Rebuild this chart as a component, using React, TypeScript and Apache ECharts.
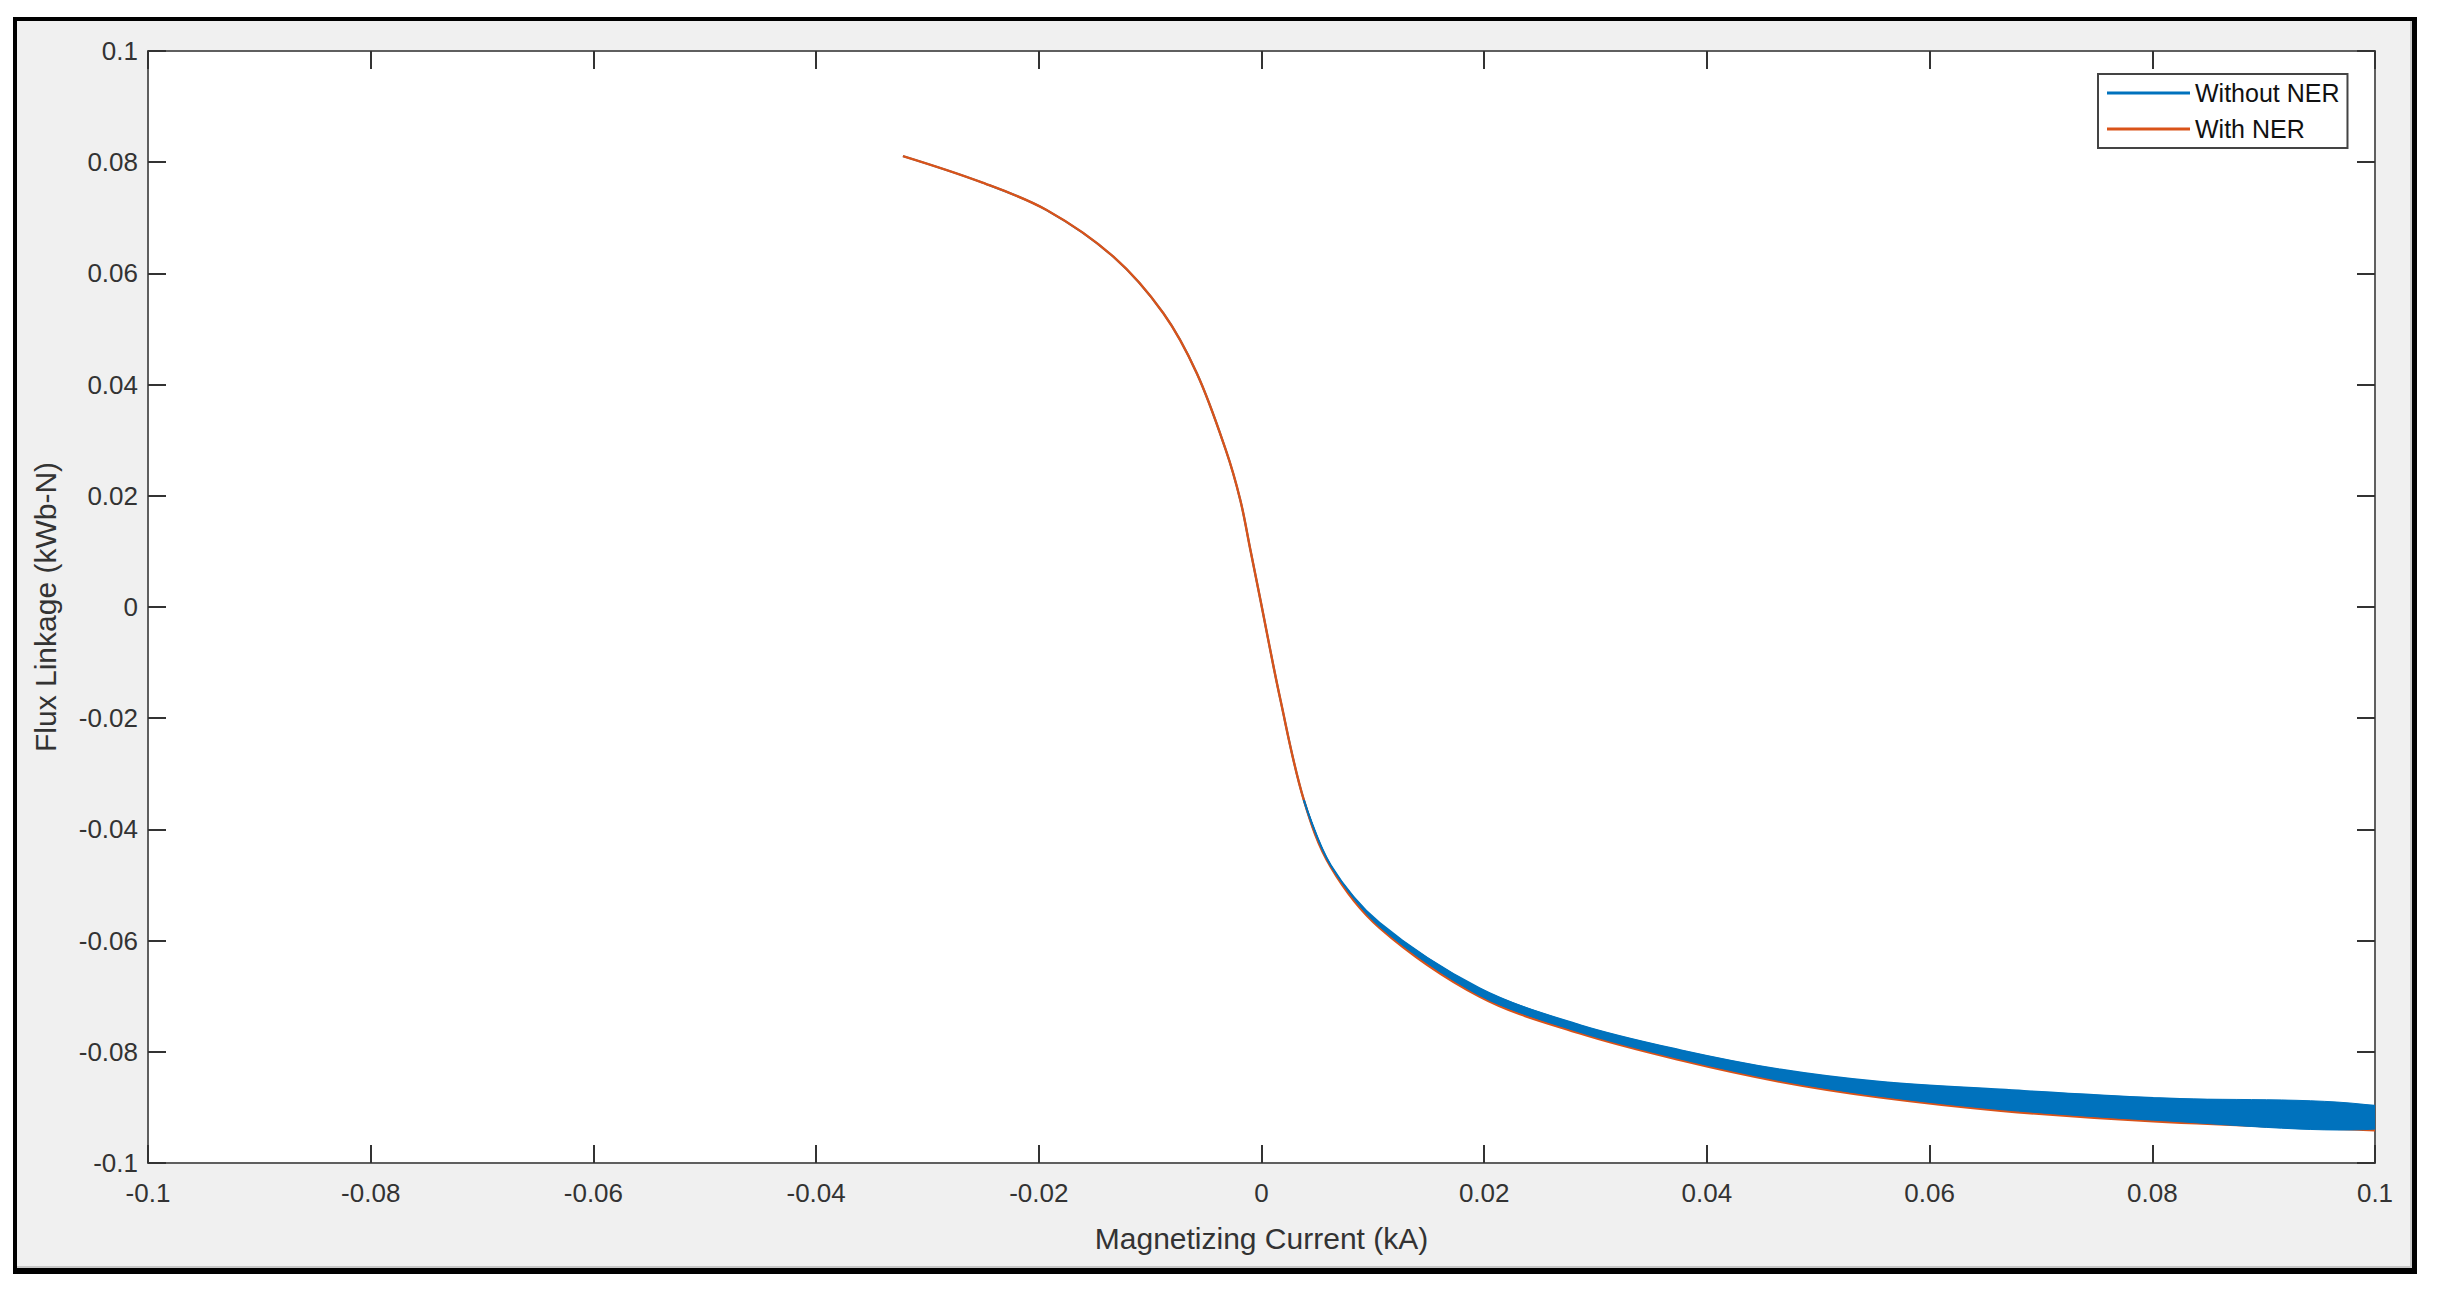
import React, { useEffect, useRef } from "react";
import * as echarts from "echarts";

// Magnetizing current (kA) sample positions
const currentKA = [
  -0.0322, -0.0253, -0.0193, -0.0133, -0.0088, -0.0058, -0.0032, -0.0019, -0.001, -0.0001,
  0.0017, 0.0038, 0.0062, 0.0106, 0.0196, 0.0286, 0.0376, 0.0466, 0.0555, 0.0664, 0.0801, 0.1,
];
// Flux linkage (kWb-N) "With NER" (orange)
const withNER = [
  0.0811, 0.0765, 0.0714, 0.063, 0.0528, 0.042, 0.0282, 0.0192, 0.0103, 0.0013,
  -0.0167, -0.0347, -0.0467, -0.0577, -0.0701, -0.0767, -0.0815, -0.0854, -0.0882, -0.0906, -0.0925, -0.0941,
];
// "Without NER" (blue) band: lower edge (sits just above the orange line)
const withoutNERLower = [
  0.0811, 0.0765, 0.0714, 0.063, 0.0528, 0.042, 0.0282, 0.0192, 0.0103, 0.0013,
  -0.0167, -0.0347, -0.0465, -0.0575, -0.0699, -0.0765, -0.0813, -0.0852, -0.088, -0.0904, -0.0923, -0.0939,
];
// "Without NER" (blue) band: upper edge
const withoutNERUpper = [
  0.0811, 0.0765, 0.0714, 0.063, 0.0528, 0.042, 0.0282, 0.0192, 0.0103, 0.0013,
  -0.0167, -0.0347, -0.0464, -0.0568, -0.0686, -0.0752, -0.0797, -0.0832, -0.0854, -0.0868, -0.0883, -0.0897,
];
// index where the blue band starts to open up
const bandStart = 11;

const axisMin = -0.1;
const axisMax = 0.1;
const axisStep = 0.02;
const legendNames = ["Without NER", "With NER"];

const BLUE = "#0072BD";
const ORANGE = "#D95319";
const FONT = "'Liberation Sans', Arial, Helvetica, sans-serif";
const SMOOTH = 0.35;

const fmt = (v: number) => String(+v.toFixed(2));

export default function App() {
  const ref = useRef<HTMLDivElement>(null);
  useEffect(() => {
    if (!ref.current) return;
    const chart = echarts.init(ref.current, undefined, { renderer: "svg" });

    const axisLine = { show: true, onZero: false, lineStyle: { color: "#5f5f5f", width: 2 } };
    const axisTick = { show: true, inside: true, length: 18, lineStyle: { color: "#333", width: 2 } };
    const labelStyle = { color: "#333", fontSize: 26, fontFamily: FONT };

    const bandData = currentKA
      .map((x, i) => [x, withoutNERLower[i], withoutNERUpper[i]])
      .slice(bandStart);

    const option: any = {
      animation: false,
      backgroundColor: "#ffffff",
      textStyle: { fontFamily: FONT },
      graphic: [
        { type: "rect", z: -20, shape: { x: 13, y: 17, width: 2404, height: 1257 }, style: { fill: "#000" } },
        { type: "rect", z: -19, shape: { x: 17, y: 21, width: 2395, height: 1247 }, style: { fill: "#c8c8c8" } },
        { type: "rect", z: -18, shape: { x: 17, y: 21, width: 2393, height: 1245 }, style: { fill: "#f0f0f0" } },
      ],
      grid: {
        left: 148,
        top: 51,
        right: 64,
        bottom: 137,
        show: true,
        backgroundColor: "#ffffff",
        borderWidth: 0,
        z: 0,
      },
      legend: {
        data: legendNames,
        orient: "vertical",
        left: 2098,
        top: 74,
        padding: [4, 8, 4, 9],
        itemGap: 6,
        itemWidth: 83,
        itemHeight: 3,
        icon: "rect",
        backgroundColor: "#ffffff",
        borderColor: "#444",
        borderWidth: 2,
        borderRadius: 0,
        textStyle: { color: "#111", fontSize: 25, lineHeight: 30, fontFamily: FONT },
        z: 10,
      },
      xAxis: [
        {
          type: "value",
          min: axisMin,
          max: axisMax,
          interval: axisStep,
          position: "bottom",
          name: "Magnetizing Current (kA)",
          nameLocation: "middle",
          nameGap: 60,
          nameTextStyle: { color: "#333", fontSize: 30, fontFamily: FONT },
          axisLine,
          axisTick,
          axisLabel: { ...labelStyle, margin: 17, formatter: fmt, showMinLabel: true, showMaxLabel: true },
          splitLine: { show: false },
        },
        {
          type: "value",
          min: axisMin,
          max: axisMax,
          interval: axisStep,
          position: "top",
          axisLine,
          axisTick,
          axisLabel: { show: false },
          splitLine: { show: false },
        },
      ],
      yAxis: [
        {
          type: "value",
          min: axisMin,
          max: axisMax,
          interval: axisStep,
          position: "left",
          name: "Flux Linkage (kWb-N)",
          nameLocation: "middle",
          nameGap: 88,
          nameRotate: 90,
          nameTextStyle: { color: "#333", fontSize: 30, fontFamily: FONT },
          axisLine,
          axisTick,
          axisLabel: { ...labelStyle, margin: 10, formatter: fmt, showMinLabel: true, showMaxLabel: true },
          splitLine: { show: false },
        },
        {
          type: "value",
          min: axisMin,
          max: axisMax,
          interval: axisStep,
          position: "right",
          axisLine,
          axisTick,
          axisLabel: { show: false },
          splitLine: { show: false },
        },
      ],
      series: [
        {
          name: "Without NER",
          type: "line",
          data: currentKA.map((x, i) => [x, withoutNERLower[i]]),
          showSymbol: false,
          smooth: SMOOTH,
          color: BLUE,
          lineStyle: { color: BLUE, width: 2 },
          z: 1,
        },
        {
          name: "With NER",
          type: "line",
          data: currentKA.map((x, i) => [x, withNER[i]]),
          showSymbol: false,
          smooth: SMOOTH,
          color: ORANGE,
          lineStyle: { color: ORANGE, width: 2.4 },
          z: 2,
        },
        {
          name: "Without NER band",
          type: "custom",
          data: bandData,
          encode: { x: 0, y: [1, 2] },
          clip: true,
          color: BLUE,
          renderItem: (params: any, api: any) => {
            if (params.dataIndex !== 0) return null;
            const pts: number[][] = [];
            for (let i = 0; i < bandData.length; i++) {
              pts.push(api.coord([bandData[i][0], bandData[i][2]]));
            }
            for (let i = bandData.length - 1; i >= 1; i--) {
              pts.push(api.coord([bandData[i][0], bandData[i][1]]));
            }
            return {
              type: "polygon",
              shape: { points: pts, smooth: 0.3 },
              style: { fill: BLUE, stroke: BLUE, lineWidth: 1 },
            };
          },
          z: 3,
        },
        {
          name: "Without NER upper",
          type: "line",
          data: bandData.map((d) => [d[0], d[2]]),
          showSymbol: false,
          smooth: SMOOTH,
          color: BLUE,
          lineStyle: { color: BLUE, width: 2 },
          z: 3,
        },
      ],
    };
    chart.setOption(option);
    return () => chart.dispose();
  }, []);

  return (
    <div
      ref={ref}
      style={{ position: "fixed", left: 0, top: 0, width: 2439, height: 1300 }}
    />
  );
}
